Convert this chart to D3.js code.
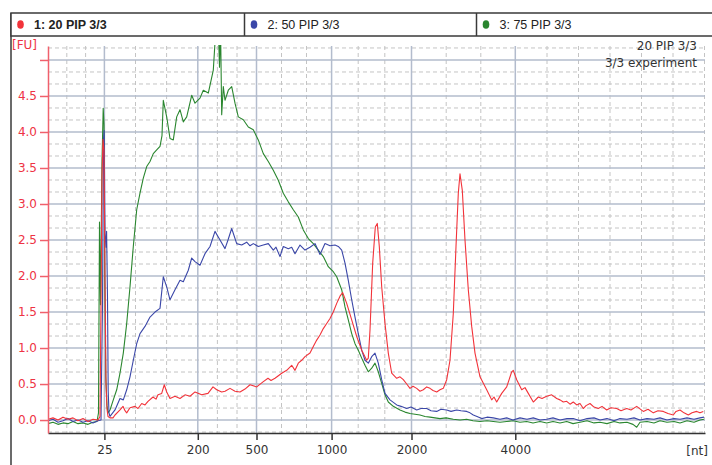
<!DOCTYPE html>
<html>
<head>
<meta charset="utf-8">
<script src="https://cdn.jsdelivr.net/npm/d3@7/dist/d3.min.js"></script>
<style>
  html, body { margin: 0; padding: 0; background: #fff; }
  svg { display: block; }
  text { font-family: "DejaVu Sans", Verdana, sans-serif; }
</style>
</head>
<body>
<svg id="chart" width="712" height="465"></svg>
<script>
// ---------- data ----------
const seriesNames = ["1: 20 PIP 3/3", "2: 50 PIP 3/3", "3: 75 PIP 3/3"];
const seriesColors = ["#f2333a", "#3b47a8", "#2a862f"];

// size ladder (nt) labels and their migration times (s)
const xTickLabels = ["25", "200", "500", "1000", "2000", "4000"];
const xTickTimes = [25.64, 34.98, 40.85, 48.36, 56.35, 66.73];
const xMinorTimes = [21.88, 23.76, 28.75, 31.86, 36.94, 38.9, 43.35, 45.85, 51.02, 53.68,
                     59.82, 63.28, 69.9, 73.05, 76.2, 79.35, 82.5, 85.65];
const yTickValues = [0, 0.5, 1, 1.5, 2, 2.5, 3, 3.5, 4, 4.5, 5];

// [migration time (s), fluorescence (FU)]
const red20 = [
 [20.0,0.01],[20.5,0.03],[21.0,0.0],[21.5,0.04],[22.0,0.01],[22.5,0.03],[23.0,-0.01],[23.5,0.02],
 [24.0,-0.02],[24.5,0.01],[25.0,0.0],[25.2,0.05],[25.3,1.6],[25.4,3.4],[25.5,3.9],[25.6,3.75],
 [25.7,2.0],[25.8,0.5],[25.9,0.15],[26.0,0.05],[26.2,0.03],[26.5,0.03],[26.7,0.07],[27.2,0.14],
 [27.5,0.19],[27.7,0.13],[27.87,0.1],[28.2,0.17],[28.7,0.19],[29.0,0.16],[29.37,0.23],[29.7,0.21],
 [30.0,0.26],[30.5,0.32],[30.8,0.29],[31.0,0.35],[31.37,0.37],[31.63,0.49],[31.87,0.39],[32.2,0.30],
 [32.7,0.33],[33.2,0.30],[33.7,0.35],[34.2,0.33],[34.7,0.39],[35.37,0.35],[36.0,0.37],[36.5,0.46],
 [36.87,0.42],[37.37,0.39],[37.7,0.40],[38.2,0.44],[38.7,0.40],[39.2,0.39],[39.7,0.43],[40.2,0.49],
 [40.87,0.46],[41.5,0.53],[42.0,0.58],[42.3,0.55],[42.7,0.58],[43.37,0.65],[43.87,0.69],[44.37,0.76],
 [44.7,0.69],[45.03,0.79],[45.37,0.83],[45.7,0.88],[46.2,0.93],[46.53,1.02],[46.87,1.11],[47.2,1.18],
 [47.53,1.27],[47.87,1.34],[48.2,1.41],[48.53,1.5],[48.87,1.62],[49.2,1.72],[49.47,1.77],[49.87,1.62],
 [50.37,1.39],[50.87,1.16],[51.37,0.97],[51.87,0.83],[52.03,0.86],[52.2,1.25],[52.47,2.18],[52.73,2.68],
 [52.93,2.73],[53.13,2.41],[53.37,1.85],[53.7,1.34],[54.03,0.93],[54.37,0.65],[54.87,0.58],[55.2,0.6],
 [55.53,0.56],[55.87,0.5],[56.2,0.44],[56.5,0.47],[56.87,0.44],[57.2,0.4],[57.53,0.42],[57.87,0.46],
 [58.2,0.44],[58.5,0.41],[58.87,0.39],[59.2,0.42],[59.53,0.44],[59.87,0.56],[60.2,0.83],[60.53,1.48],
 [60.8,2.41],[61.03,3.15],[61.2,3.42],[61.43,3.19],[61.7,2.5],[62.03,1.81],[62.37,1.3],[62.7,0.93],
 [63.2,0.6],[63.87,0.42],[64.37,0.28],[64.6,0.32],[64.87,0.25],[65.37,0.37],[65.87,0.46],[66.37,0.67],
 [66.53,0.69],[66.87,0.56],[67.37,0.42],[67.7,0.45],[68.03,0.37],[68.53,0.25],[69.03,0.32],[69.4,0.3],
 [69.87,0.33],[70.37,0.35],[70.87,0.3],[71.2,0.28],[71.53,0.25],[71.87,0.26],[72.2,0.22],[72.53,0.25],
 [72.87,0.21],[73.2,0.23],[73.53,0.16],[73.8,0.2],[74.2,0.23],[74.6,0.18],[75.03,0.16],[75.4,0.19],
 [75.87,0.14],[76.3,0.17],[76.87,0.16],[77.3,0.13],[77.87,0.16],[78.3,0.14],[78.87,0.19],[79.53,0.12],
 [80.0,0.15],[80.53,0.1],[81.0,0.13],[81.53,0.12],[82.0,0.09],[82.53,0.07],[82.8,0.12],[83.2,0.14],
 [83.6,0.1],[84.03,0.07],[84.4,0.1],[84.87,0.12],[85.2,0.1],[85.53,0.12]
];
const blue50 = [
 [20.0,-0.01],[20.5,0.01],[21.0,-0.03],[21.5,-0.01],[22.0,0.02],[22.5,-0.02],[23.0,0.0],[23.5,-0.03],
 [24.0,-0.01],[24.5,-0.04],[25.0,-0.01],[25.3,0.0],[25.45,1.6],[25.55,3.9],[25.62,4.02],[25.7,2.6],
 [25.8,2.4],[25.86,2.62],[25.95,1.7],[26.02,0.4],[26.1,0.1],[26.2,0.05],[26.7,0.14],[27.2,0.3],
 [27.53,0.28],[27.87,0.42],[28.2,0.6],[28.53,0.83],[28.87,1.06],[29.2,1.2],[29.7,1.3],[30.2,1.43],
 [30.7,1.5],[31.2,1.55],[31.53,1.99],[31.87,1.85],[32.2,1.67],[32.7,1.81],[33.2,1.94],[33.53,1.92],
 [34.03,2.08],[34.37,2.25],[34.7,2.2],[35.2,2.15],[35.7,2.31],[36.2,2.41],[36.7,2.62],[37.2,2.5],
 [37.7,2.38],[38.0,2.5],[38.37,2.66],[38.87,2.45],[39.37,2.43],[39.87,2.47],[40.2,2.42],[40.53,2.45],
 [41.03,2.41],[41.53,2.43],[42.03,2.45],[42.53,2.36],[42.8,2.4],[43.2,2.27],[43.53,2.41],[44.03,2.38],
 [44.37,2.4],[44.7,2.31],[45.2,2.43],[45.7,2.36],[46.2,2.4],[46.7,2.45],[47.2,2.3],[47.7,2.45],
 [48.2,2.42],[48.7,2.43],[49.03,2.41],[49.37,2.36],[49.7,2.18],[50.03,1.94],[50.37,1.67],[50.7,1.43],
 [51.03,1.2],[51.37,0.97],[51.7,0.83],[52.03,0.79],[52.37,0.88],[52.7,0.93],[53.03,0.79],[53.37,0.56],
 [53.7,0.37],[54.2,0.28],[54.87,0.21],[55.3,0.19],[55.87,0.16],[56.3,0.18],[56.87,0.14],[57.3,0.16],
 [57.87,0.16],[58.3,0.13],[58.87,0.12],[59.3,0.15],[59.87,0.14],[60.3,0.12],[60.87,0.14],[61.3,0.13],
 [61.87,0.12],[62.2,0.1],[62.53,0.07],[62.9,0.05],[63.37,0.02],[63.9,0.04],[64.53,0.03],[65.2,0.01],
 [65.87,0.03],[66.5,0.0],[67.2,0.03],[67.9,0.01],[68.53,0.03],[69.2,0.0],[69.87,0.01],[70.5,0.03],
 [71.2,0.0],[71.9,0.02],[72.53,0.02],[73.2,-0.01],[73.9,0.02],[74.6,0.03],[75.2,0.0],[75.9,0.02],
 [76.6,-0.01],[77.2,0.02],[77.9,0.01],[78.6,0.03],[79.2,0.0],[79.9,0.02],[80.6,0.01],[81.2,0.03],
 [81.9,0.0],[82.6,0.02],[83.2,0.01],[83.9,0.03],[84.6,0.01],[85.2,0.03],[85.6,0.04]
];
const green75 = [
 [20.0,-0.05],[20.5,-0.03],[21.0,-0.06],[21.5,-0.04],[22.0,-0.05],[22.5,-0.02],[23.0,-0.05],[23.5,-0.04],
 [24.0,-0.06],[24.5,-0.03],[24.9,-0.02],[25.05,0.1],[25.15,2.75],[25.25,1.6],[25.4,3.6],[25.52,4.33],
 [25.6,4.1],[25.68,2.0],[25.78,0.6],[25.9,0.2],[26.0,0.1],[26.2,0.14],[26.53,0.28],[26.87,0.42],
 [27.2,0.65],[27.53,0.93],[27.87,1.34],[28.2,1.85],[28.53,2.41],[28.87,2.92],[29.2,3.15],[29.53,3.36],
 [29.87,3.52],[30.2,3.59],[30.53,3.7],[30.87,3.75],[31.2,3.8],[31.4,3.95],[31.53,4.44],[31.87,4.21],
 [32.2,3.91],[32.53,3.89],[32.87,4.21],[33.2,4.31],[33.53,4.14],[33.87,4.21],[34.37,4.51],[34.7,4.4],
 [35.2,4.47],[35.53,4.58],[36.03,4.54],[36.53,4.86],[36.77,5.4],[37.0,5.6],[37.15,4.9],[37.25,5.5],
 [37.37,4.24],[37.53,4.63],[37.7,4.44],[38.03,4.58],[38.37,4.63],[38.7,4.4],[39.03,4.21],[39.53,4.17],
 [40.03,4.07],[40.53,4.03],[41.03,3.89],[41.53,3.7],[42.03,3.59],[42.53,3.47],[43.03,3.33],[43.53,3.15],
 [44.03,3.03],[44.53,2.92],[45.03,2.82],[45.53,2.64],[46.03,2.52],[46.53,2.45],[47.03,2.36],[47.53,2.27],
 [48.03,2.13],[48.53,2.06],[48.87,1.99],[49.37,1.81],[49.7,1.57],[50.03,1.39],[50.37,1.2],[50.7,1.06],
 [51.03,0.97],[51.37,0.86],[51.7,0.76],[52.03,0.67],[52.37,0.72],[52.7,0.79],[53.03,0.67],[53.37,0.51],
 [53.7,0.35],[54.03,0.25],[54.53,0.19],[55.2,0.14],[55.7,0.11],[56.2,0.09],[56.7,0.08],[57.2,0.07],
 [57.7,0.05],[58.2,0.04],[58.7,0.03],[59.2,0.02],[59.8,0.03],[60.53,0.01],[61.2,0.0],[61.87,0.01],
 [62.5,-0.01],[63.2,-0.02],[63.9,-0.01],[64.53,-0.02],[65.2,-0.03],[65.87,-0.02],[66.5,-0.01],[67.2,-0.03],
 [67.87,-0.02],[68.5,-0.04],[69.2,-0.02],[69.87,-0.04],[70.5,-0.02],[71.2,-0.04],[71.87,-0.02],[72.5,-0.05],
 [73.2,-0.03],[73.9,-0.01],[74.6,-0.04],[75.2,-0.03],[75.9,-0.05],[76.6,-0.02],[77.2,-0.04],[77.9,-0.03],
 [78.5,-0.06],[78.87,-0.1],[79.2,-0.03],[79.9,-0.02],[80.6,-0.04],[81.2,-0.01],[81.9,-0.03],[82.6,-0.02],
 [83.2,-0.04],[83.9,-0.01],[84.6,-0.03],[85.2,0.0],[85.6,0.01]
];

// ---------- layout ----------
const svg = d3.select("#chart");
const pLeft = 48, pRight = 705, pTop = 46, pBottom = 433;

const x = d3.scaleLinear().domain([20, 85.7]).range([pLeft, pRight]);
const y = d3.scaleLinear().domain([-0.18, 5.194]).range([pBottom, pTop]);

// frame and legend box
svg.append("line").attr("x1", 11).attr("x2", 11).attr("y1", 13).attr("y2", 465)
  .attr("stroke", "#3a3a3a").attr("stroke-width", 1.5);
svg.append("rect").attr("x", 11).attr("y", 13).attr("width", 720).attr("height", 23)
  .attr("fill", "#fff").attr("stroke", "#3a3a3a").attr("stroke-width", 1.5);
const legendX = [11, 244.5, 476.5];
legendX.slice(1).forEach(lx => {
  svg.append("line").attr("x1", lx).attr("x2", lx).attr("y1", 13).attr("y2", 36)
    .attr("stroke", "#3a3a3a").attr("stroke-width", 1.5);
});
seriesNames.forEach((name, i) => {
  const gx0 = legendX[i];
  svg.append("ellipse").attr("cx", gx0 + 9.5).attr("cy", 24.5).attr("rx", 3.3).attr("ry", 4.3)
    .attr("fill", seriesColors[i]);
  svg.append("text").attr("x", gx0 + 23).attr("y", 29)
    .style("font-family", "'Liberation Sans', Arial, sans-serif")
    .style("font-size", "12.5px")
    .style("font-weight", i === 0 ? "bold" : "normal")
    .attr("fill", "#222").text(name);
});

// grid
const grid = svg.append("g");
const yMinor = d3.range(-1, 32).filter(k => k % 3 !== 0).map(k => k / 6);
grid.selectAll(".ym").data(yMinor).join("line")
  .attr("x1", pLeft).attr("x2", pRight).attr("y1", d => y(d)).attr("y2", d => y(d))
  .attr("stroke", "#c4c4c4").attr("stroke-dasharray", "4,3").attr("stroke-width", 1);
grid.selectAll(".xm").data(xMinorTimes).join("line")
  .attr("x1", d => x(d)).attr("x2", d => x(d)).attr("y1", pTop).attr("y2", pBottom)
  .attr("stroke", "#c4c4c4").attr("stroke-dasharray", "4,3").attr("stroke-width", 1);
grid.selectAll(".yM").data(yTickValues).join("line")
  .attr("x1", pLeft).attr("x2", pRight).attr("y1", d => y(d)).attr("y2", d => y(d))
  .attr("stroke", "#b3bccd").attr("stroke-width", 1.5);
grid.selectAll(".xM").data(xTickTimes).join("line")
  .attr("x1", d => x(d)).attr("x2", d => x(d)).attr("y1", pTop).attr("y2", pBottom)
  .attr("stroke", "#b3bccd").attr("stroke-width", 1.5);

// traces
svg.append("clipPath").attr("id", "plotclip").append("rect")
  .attr("x", pLeft).attr("y", pTop - 1).attr("width", pRight - pLeft).attr("height", pBottom - pTop + 1);
const line = d3.line().x(d => x(d[0])).y(d => y(d[1]));
const traces = svg.append("g").attr("clip-path", "url(#plotclip)");
[[green75, 2], [blue50, 1], [red20, 0]].forEach(([data, i]) => {
  traces.append("path").datum(data).attr("d", line)
    .attr("fill", "none").attr("stroke", seriesColors[i]).attr("stroke-width", 1.1)
    .attr("stroke-linejoin", "round");
});

// x axis
const xAxis = d3.axisBottom(x).tickValues(xTickTimes)
  .tickFormat((d, i) => xTickLabels[i]).tickSize(7).tickSizeOuter(0).tickPadding(5);
const gxa = svg.append("g").attr("transform", `translate(0,${pBottom})`).call(xAxis);
gxa.select(".domain").attr("stroke", "#333").attr("stroke-width", 1.5);
gxa.selectAll(".tick line").attr("stroke", "#333").attr("stroke-width", 1.5);
gxa.selectAll("text").style("font-family", "'DejaVu Sans', Verdana, sans-serif")
  .style("font-size", "12px").attr("fill", "#333");

// y axis
const yAxis = d3.axisLeft(y).tickValues(yTickValues)
  .tickFormat(d => d === 5 ? "" : d3.format(".1f")(d)).tickSize(8).tickSizeOuter(0).tickPadding(3);
const gya = svg.append("g").attr("transform", `translate(${pLeft},0)`).call(yAxis);
gya.select(".domain").attr("stroke", "#f0606c").attr("stroke-width", 1.5);
gya.selectAll(".tick line").attr("stroke", "#f0606c").attr("stroke-width", 1.5);
gya.selectAll("text").style("font-family", "'DejaVu Sans', Verdana, sans-serif")
  .style("font-size", "12px").attr("fill", "#ee3344");

// unit labels
svg.append("text").attr("x", 12).attr("y", 49).attr("fill", "#ee3344")
  .style("font-size", "12px").text("[FU]");
svg.append("text").attr("x", 708).attr("y", 455).attr("text-anchor", "end").attr("fill", "#333")
  .style("font-size", "12px").text("[nt]");

// annotation
svg.append("text").attr("x", 697).attr("y", 50).attr("text-anchor", "end")
  .attr("fill", "#333").style("font-size", "12px").text("20 PIP 3/3");
svg.append("text").attr("x", 697).attr("y", 67).attr("text-anchor", "end")
  .attr("fill", "#333").style("font-size", "12px").text("3/3 experiment");
</script>
</body>
</html>
